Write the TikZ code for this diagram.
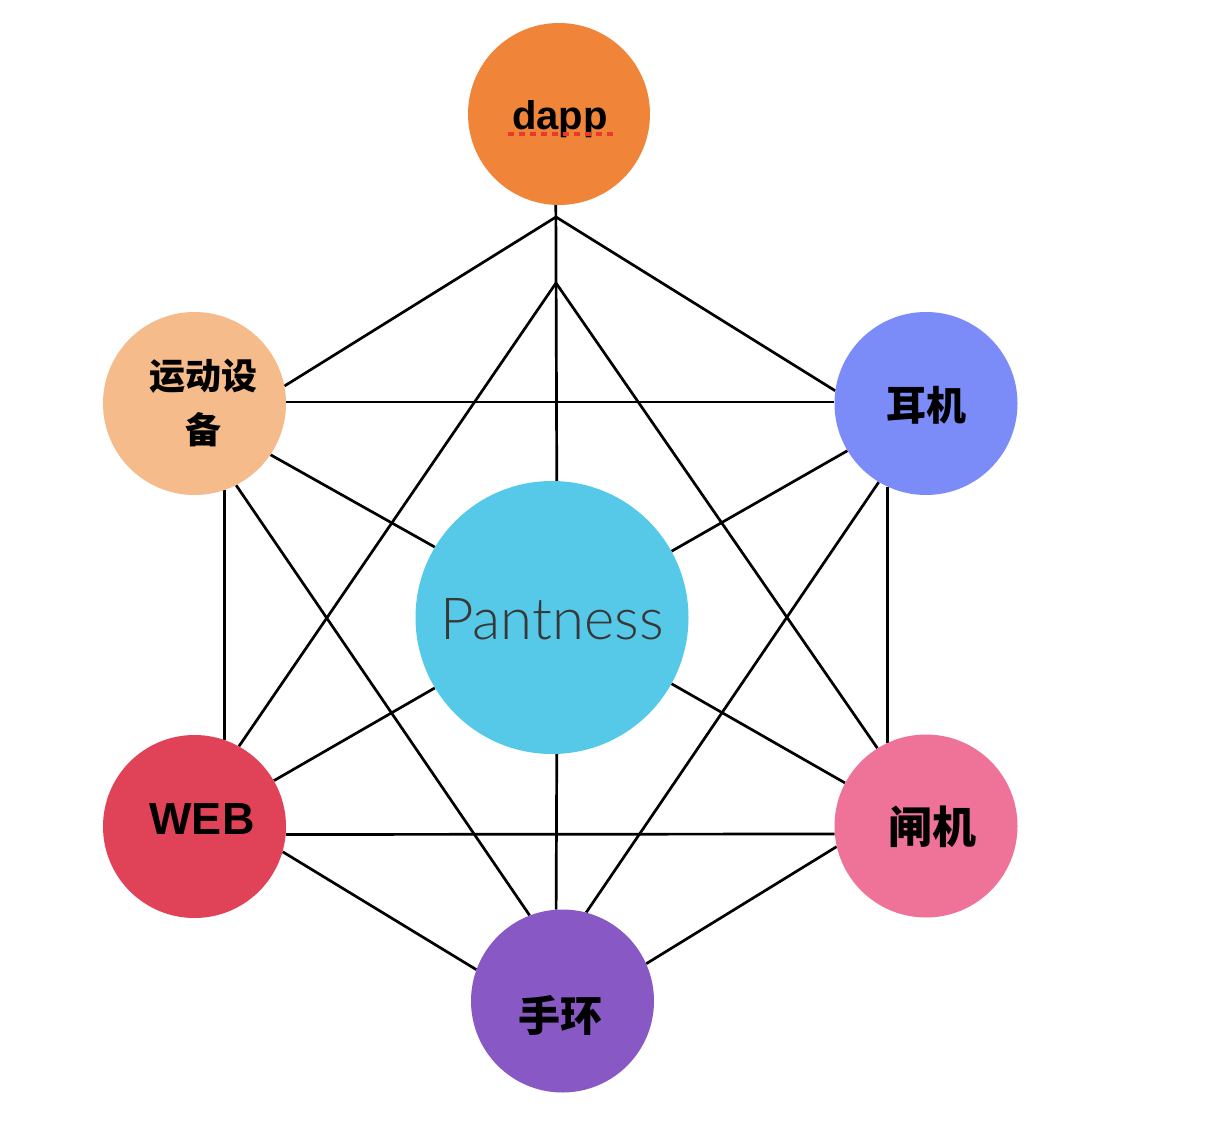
\documentclass[tikz,border=0pt]{standalone}
\usepackage{fontspec}
\setmainfont{Liberation Sans}
\newfontfamily\cjk{Noto Sans CJK SC}
\newfontfamily\thinfont{Lato}[UprightFont=* Light]
\usetikzlibrary{backgrounds}
\definecolor{dappc}{RGB}{240,133,58}
\definecolor{sportc}{RGB}{245,187,138}
\definecolor{earc}{RGB}{123,139,248}
\definecolor{corec}{RGB}{86,200,232}
\definecolor{webc}{RGB}{224,67,88}
\definecolor{gatec}{RGB}{239,115,153}
\definecolor{bandc}{RGB}{136,89,196}
\definecolor{spellc}{RGB}{232,58,42}
\newcommand\fsz[1]{\fontsize{#1}{#1}\selectfont}
\tikzset{
  ball/.style={circle,inner sep=0pt,minimum size=183pt},
  link/.style={line width=2.7pt},
  zh/.style={font=\cjk\bfseries\fsz{#1}},
  en/.style={font=\bfseries\fsz{#1}}
}
\begin{document}
\begin{tikzpicture}[x=1pt,y=-1pt]
    \useasboundingbox (0,0) rectangle (1218,1126);
    % circles
    \node[ball,fill=dappc,minimum size=182pt] (dapp) at (559,114) {};
    \node[ball,fill=sportc] (sport) at (194.5,403.5) {};
    \node[ball,fill=earc] (ear) at (926,403.5) {};
    \node[ball,fill=corec,minimum size=273pt] (core) at (552,617.5) {};
    \node[ball,fill=webc] (web) at (194.5,826.5) {};
    \node[ball,fill=gatec] (gate) at (926,826) {};
    \node[ball,fill=bandc] (band) at (562.5,1001) {};
    % labels
    \node[en=40,anchor=base] (dapp-t) at (560,130) {dapp};
    \draw[spellc,line width=4pt,dash pattern=on 6pt off 5pt]
        ([xshift=-1pt,yshift=-4pt]dapp-t.base west) -- ([xshift=3pt,yshift=-4pt]dapp-t.base east);
    \node[align=center,font=\cjk\bfseries\fontsize{36}{54}\selectfont] (sport-t) at (203,403) {运动设\\备};
    \node[zh=40] (ear-t) at (926,405) {耳机};
    \node[font=\thinfont\fsz{58},text=black!78,anchor=base] (core-t) at (552,639) {Pantness};
    \node[en=45,anchor=base] (web-t) at (202,834) {WEB};
    \node[zh=44] (gate-t) at (932,826.5) {闸机};
    \node[zh=42] (band-t) at (560,1015) {手环};
    % connectors behind the circles
    \begin{pgfonlayer}{background}
        \coordinate (apexA) at (556,217);
        \coordinate (apexB) at (556,283);
        \draw[link] (dapp.268) -- (core.88);
        \draw[link] (core.272) -- (band.94);
        \draw[link] (apexA) -- (sport.11);
        \draw[link] (apexA) -- (ear.172);
        \draw[link] (apexB) -- (web.61);
        \draw[link] (apexB) -- (gate.122);
        \draw[link] (sport.297) -- (band.111);
        \draw[link] (ear.239) -- (band.75);
        \draw[link] (sport.1) -- (ear.179);
        \draw[link] (web.355) -- (gate.185);
        \draw[link] (sport.289) -- (web.71);
        \draw[link] (ear.245) -- (gate.115);
        \draw[link] (sport.326) -- (core.149);
        \draw[link] (ear.211) -- (core.29);
        \draw[link] (web.30) -- (core.211);
        \draw[link] (gate.152) -- (core.331);
        \draw[link] (web.344) -- (band.160);
        \draw[link] (gate.193) -- (band.24);
    \end{pgfonlayer}
\end{tikzpicture}
\end{document}
